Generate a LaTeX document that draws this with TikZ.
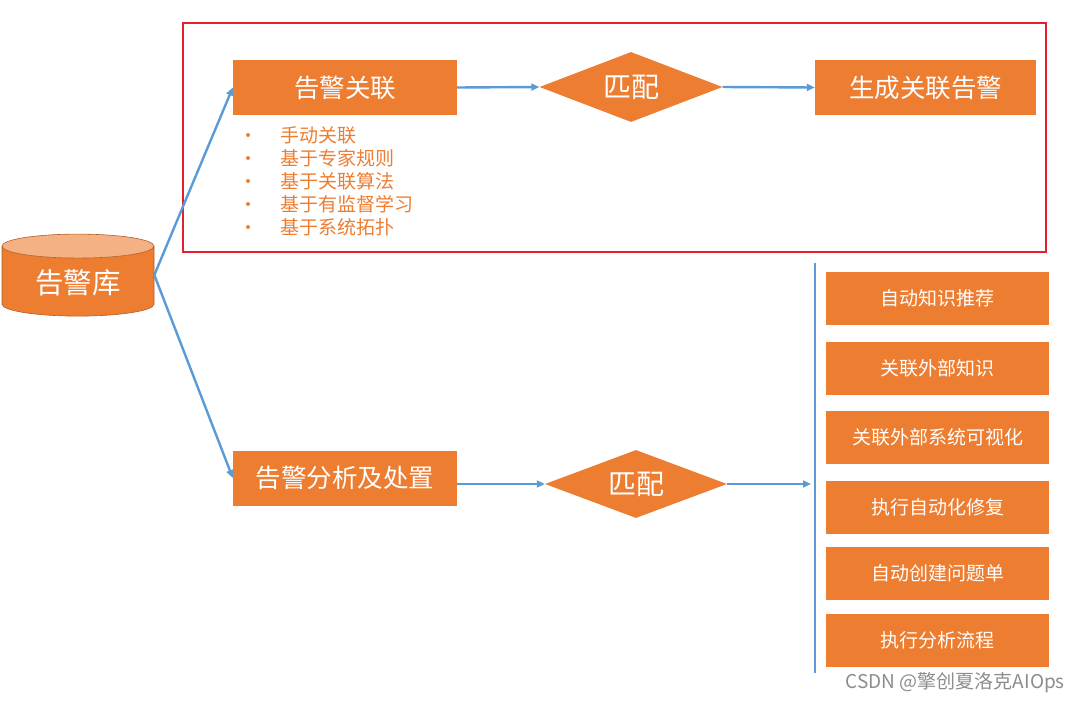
\documentclass[tikz,border=0pt]{standalone}
\usepackage{fontspec}
\setmainfont{Noto Sans CJK SC}
\usetikzlibrary{shapes.geometric,arrows.meta}
\definecolor{orng}{HTML}{ED7D31}
\definecolor{orngtop}{HTML}{F4B183}
\definecolor{blu}{HTML}{5B9BD5}
\definecolor{rd}{HTML}{E3202B}
\tikzset{
  box/.style={rectangle,fill=orng,text=white,inner sep=0pt,minimum width=224,minimum height=55,font=\fontsize{25.5}{29}\selectfont},
  sidebox/.style={rectangle,fill=orng,text=white,inner sep=0pt,minimum width=223,minimum height=53,font=\fontsize{19}{22}\selectfont},
  match/.style={diamond,fill=orng,text=white,inner sep=0pt,aspect=2.6,minimum width=183,minimum height=70,font=\fontsize{28}{32}\selectfont},
  link/.style={blu,line width=2.4pt,-{Triangle[length=8pt,width=7pt]}},
  item/.style={text=orng,anchor=west,inner sep=0pt,font=\fontsize{19}{22}\selectfont}
}
\begin{document}
\begin{tikzpicture}[x=1pt,y=-1pt]
  \useasboundingbox(0,0)rectangle(1080,701);
  % correlation area
  \draw[rd,line width=2pt](183,23)rectangle(1046,252);
  \node[cylinder,shape border rotate=90,aspect=0.26,minimum width=152,minimum height=82,
    cylinder uses custom fill,cylinder body fill=orng,cylinder end fill=orngtop,
    draw=orng!75!black,line width=0.6pt,text=white,font=\fontsize{28.5}{32}\selectfont](db)at(78,283){告警库};
  \coordinate(out)at([yshift=8pt]db.east);
  \node[box](corr)at(345,87.5){告警关联};
  \node[match](m1)at(631,87){匹配};
  \node[box,minimum width=221](gen)at(925.5,87.5){生成关联告警};
  \foreach \t [count=\i] in {手动关联,基于专家规则,基于关联算法,基于有监督学习,基于系统拓扑}{
    \fill[orng](248,{112+23*\i})circle(2pt);
    \node[item](it\i)at(280,{112+23*\i}){\t};
  }
  % analysis area
  \node[box](ana)at(345,478){告警分析及处置};
  \node[match,minimum width=182,minimum height=68](m2)at(636,484){匹配};
  \coordinate(top)at(815,263);\coordinate(bot)at(815,673);\coordinate(hit)at(811,484);
  \draw[blu,line width=2.4pt](top)--(bot);
  \foreach \y/\t [count=\i] in {298.5/自动知识推荐,368/关联外部知识,437.5/关联外部系统可视化,507/执行自动化修复,573.5/自动创建问题单,640.5/执行分析流程}{
    \node[sidebox](act\i)at(937.5,\y){\t};
  }
  \draw[link](out)--(corr.west);
  \draw[link](out)--(ana.west);
  \draw[link](corr.east)--(m1.west);
  \draw[link](m1.east)--(gen.west);
  \draw[link](ana.east|-m2)--(m2.west);
  \draw[link](m2.east)--(hit);
  \node[text=gray!90,anchor=east,inner sep=0pt,font=\fontsize{19}{22}\selectfont](mark)at(1065,683){CSDN @擎创夏洛克AIOps};
\end{tikzpicture}
\end{document}
